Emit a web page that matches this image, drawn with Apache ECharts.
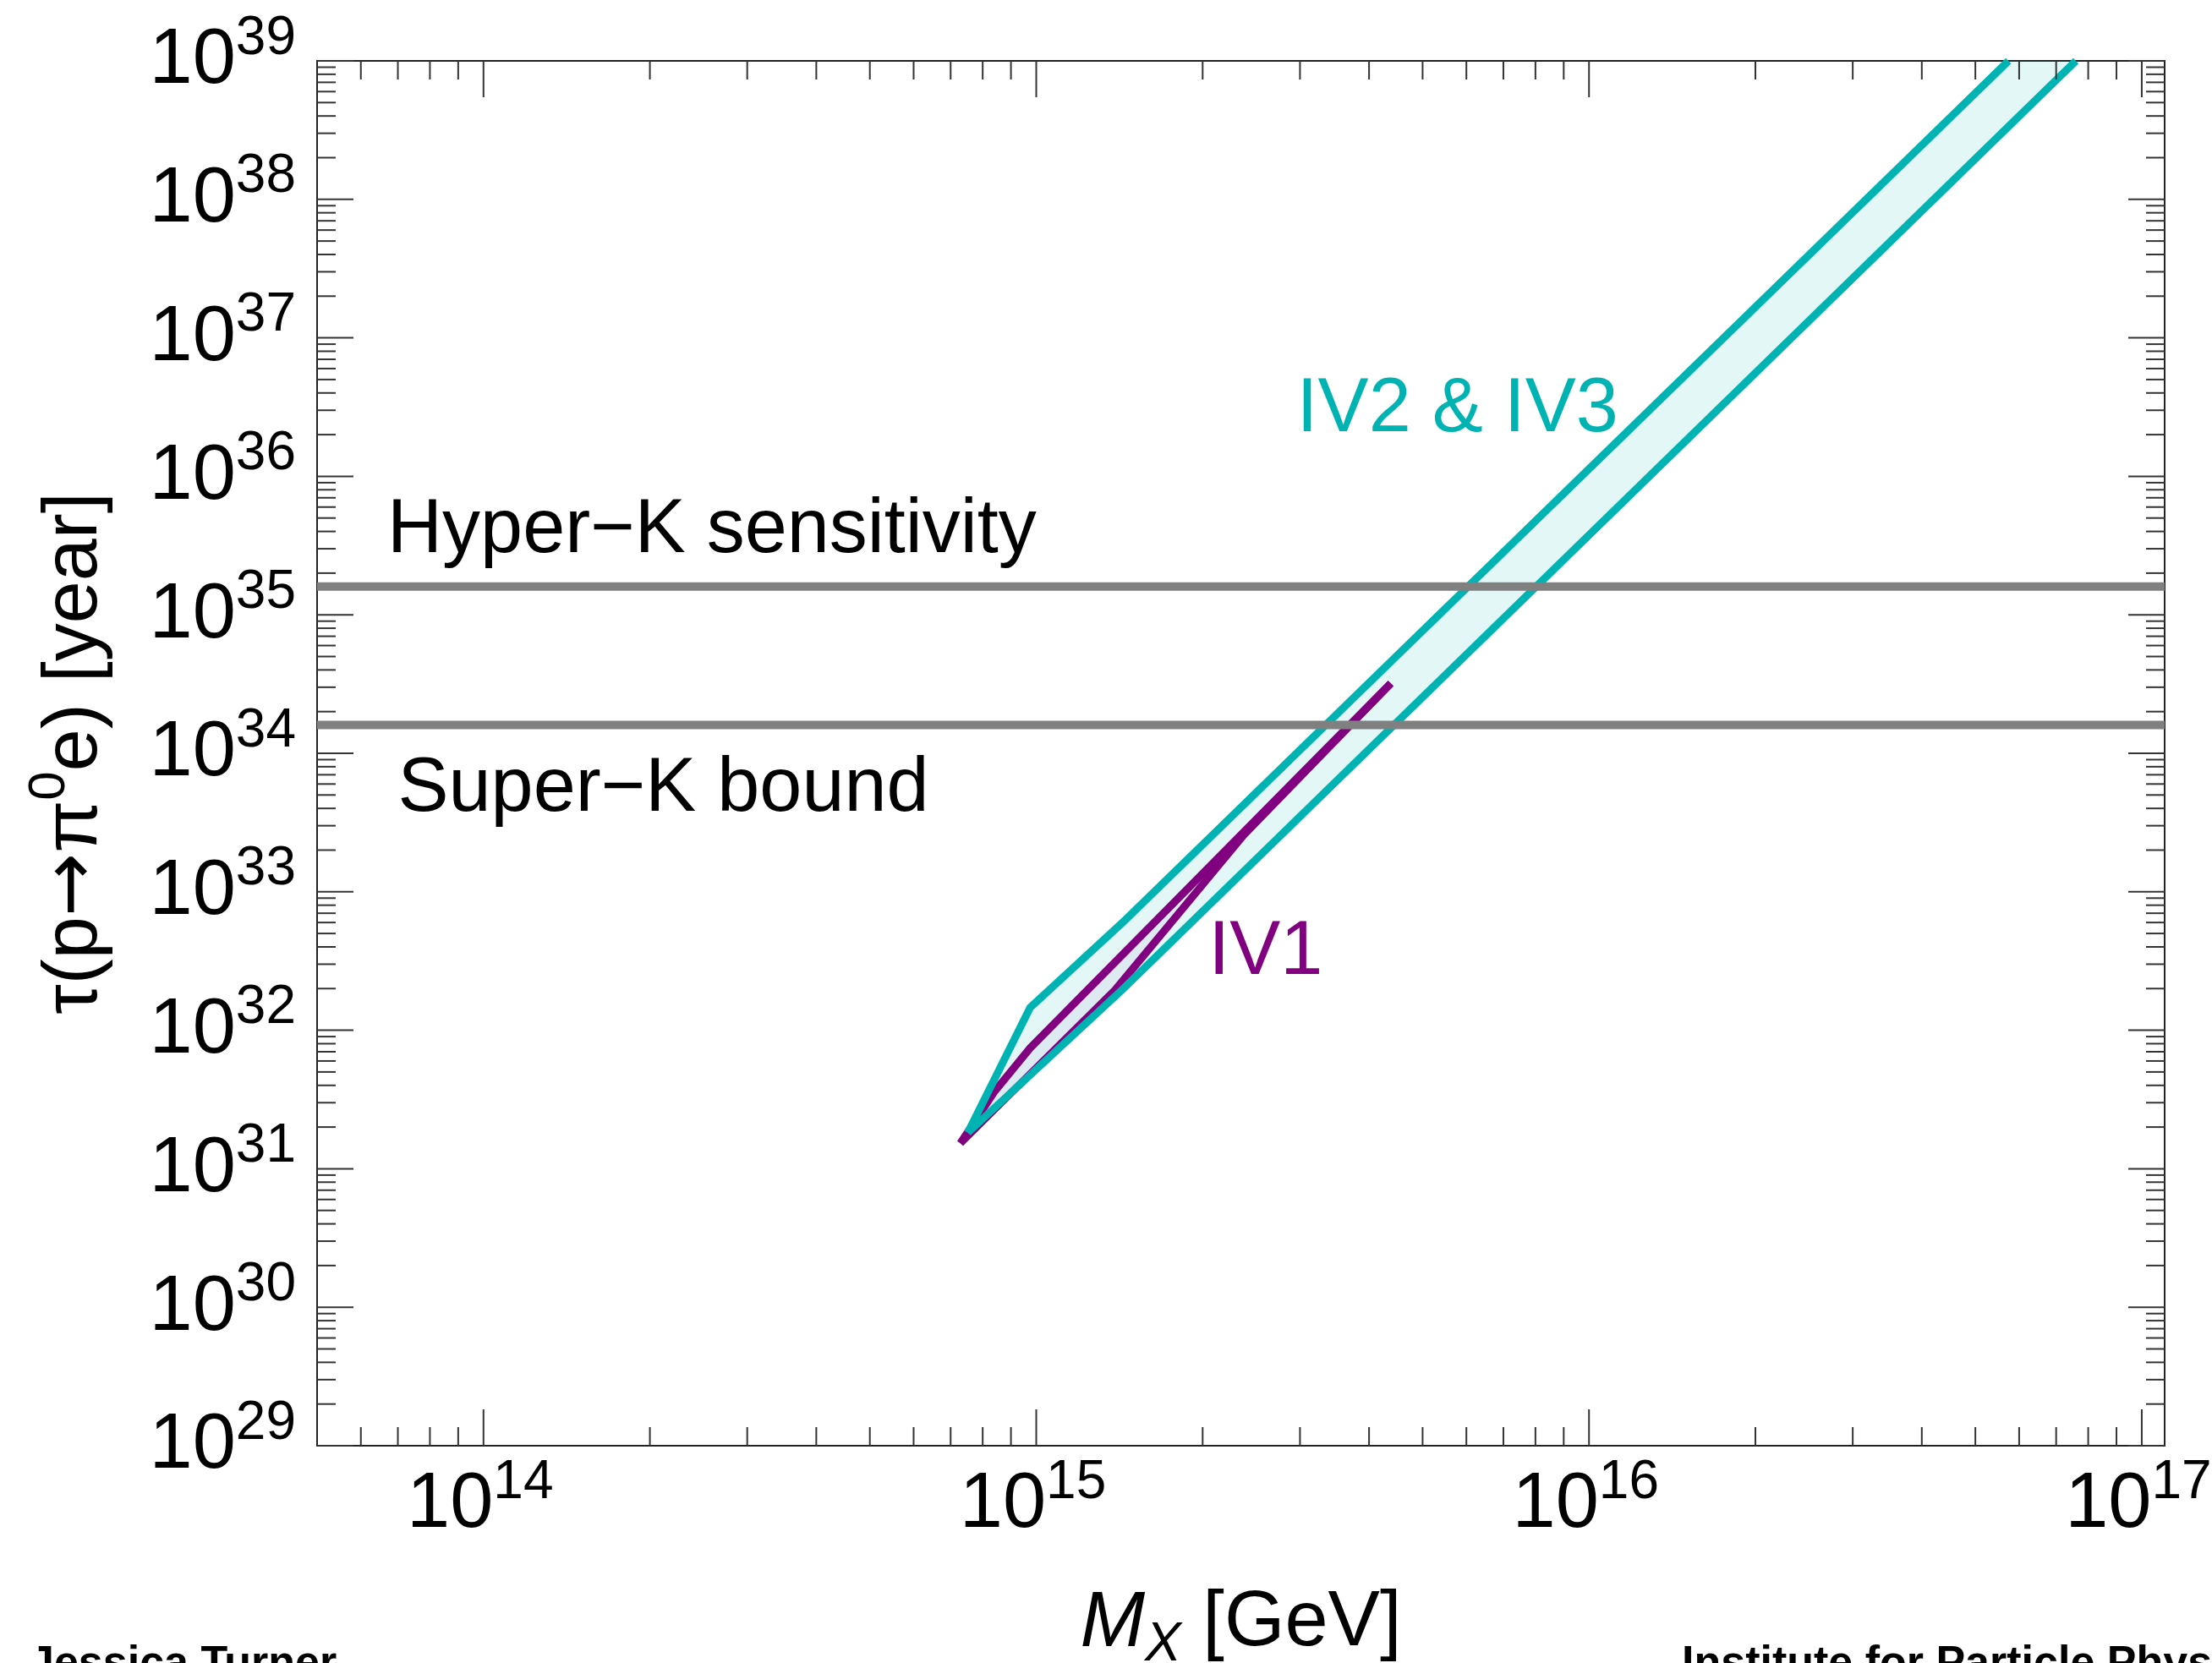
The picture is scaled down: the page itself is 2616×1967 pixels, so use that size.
<!DOCTYPE html>
<html>
<head>
<meta charset="utf-8">
<script src="https://cdn.jsdelivr.net/npm/echarts@6/dist/echarts.min.js"></script>
<style>
  html, body { margin: 0; padding: 0; background: #fff; }
  #chart { width: 2616px; height: 1967px; }
</style>
</head>
<body>
<div id="chart"></div>
<script>
const FONT = '"Liberation Sans", Arial, Helvetica, sans-serif'

// axis ranges
const X_MIN = 5e13
const X_MAX = 1.1e17
const Y_MIN = 1e29
const Y_MAX = 1e39

// decade ticks and the 2..9 minor steps in between
const xMajor = [1e13, 1e14, 1e15, 1e16, 1e17]
const yMajor = [1e29, 1e30, 1e31, 1e32, 1e33, 1e34, 1e35, 1e36, 1e37, 1e38, 1e39]
const minorSteps = [2, 3, 4, 5, 6, 7, 8, 9]

// IV2 & IV3 band, [M_X in GeV, lifetime in years]
const iv23Upper = [[7.52e14, 1.82e31], [9.75e14, 1.46e32], [1.43e15, 5.96e32], [5.74e16, 1e39]]
const iv23Lower = [[7.52e14, 1.82e31], [1.43e15, 1.96e32], [7.6e16, 1e39]]

// IV1 band
const iv1Upper = [[7.29e14, 1.53e31], [8.39e14, 3.58e31], [9.75e14, 7.45e31], [4.38e15, 3.2e34]]
const iv1Lower = [[7.29e14, 1.53e31], [1.39e15, 1.96e32], [2.37e15, 2.55e33], [4.38e15, 3.2e34]]

// experimental limits
const superK = 1.6e34
const hyperK = 1.6e35

// in-plot notes, anchored at the left end of the text baseline
const notes = ['Hyper\u2212K sensitivity', 'Super\u2212K bound', 'IV2 & IV3', 'IV1']
const noteAt = [[6.7e13, 2.6e35], [7.0e13, 3.5e33], [2.96e15, 1.95e36], [2.05e15, 2.34e32]]
const noteColor = ['#000000', '#000000', '#00b3b3', '#800080']

const CYAN = '#00b3b3'
const PURPLE = '#800080'

function isDecade (v) {
  const l = Math.log10(v)
  return Math.abs(l - Math.round(l)) < 1e-9
}

function tickValues (majors, lo, hi) {
  const out = []
  majors.forEach(m => {
    if (m >= lo && m <= hi) out.push(m)
    minorSteps.forEach(k => {
      const v = k * m
      if (v > lo && v < hi) out.push(v)
    })
  })
  return out
}

const xTicks = tickValues(xMajor, X_MIN, X_MAX)
const yTicks = tickValues(yMajor, Y_MIN, Y_MAX)

const tickStyle = { stroke: '#333', lineWidth: 2 }
const powRich = {
  b: { font: '92px ' + FONT, lineHeight: 118, fill: '#000' },
  s: { font: '64px ' + FONT, lineHeight: 64, verticalAlign: 'top', fill: '#000' }
}

function powLabel (v, x, y, align) {
  return {
    type: 'text',
    style: {
      text: '{b|10}{s|' + Math.round(Math.log10(v)) + '}',
      rich: powRich,
      x,
      y,
      align,
      verticalAlign: 'middle'
    }
  }
}

function renderXTick (params, api) {
  const v = api.value(0)
  const major = isDecade(v)
  const len = major ? 43 : 22
  const b = api.coord([v, Y_MIN])
  const t = api.coord([v, Y_MAX])
  const children = [
    { type: 'line', shape: { x1: b[0], y1: b[1], x2: b[0], y2: b[1] - len }, style: tickStyle },
    { type: 'line', shape: { x1: t[0], y1: t[1], x2: t[0], y2: t[1] + len }, style: tickStyle }
  ]
  if (major) children.push(powLabel(v, b[0] - 4, b[1] + 71, 'center'))
  return { type: 'group', children }
}

function renderYTick (params, api) {
  const v = api.value(1)
  const major = isDecade(v)
  const len = major ? 43 : 22
  const l = api.coord([X_MIN, v])
  const r = api.coord([X_MAX, v])
  const children = [
    { type: 'line', shape: { x1: l[0], y1: l[1], x2: l[0] + len, y2: l[1] }, style: tickStyle },
    { type: 'line', shape: { x1: r[0], y1: r[1], x2: r[0] - len, y2: r[1] }, style: tickStyle }
  ]
  if (major) children.push(powLabel(v, l[0] - 25, l[1] + 1, 'right'))
  return { type: 'group', children }
}

function bandRenderer (upper, lower, color) {
  return function (params, api) {
    if (params.dataIndex !== 0) return
    const pts = upper.concat(lower.slice().reverse()).map(p => api.coord(p))
    return { type: 'polygon', shape: { points: pts }, style: { fill: color } }
  }
}

function renderNote (params, api) {
  const i = params.dataIndex
  const p = api.coord([api.value(0), api.value(1)])
  const size = 90
  return {
    type: 'text',
    style: {
      text: notes[i],
      x: p[0],
      y: p[1] - 0.3465 * size,
      font: size + 'px ' + FONT,
      fill: noteColor[i],
      align: 'left',
      verticalAlign: 'middle'
    }
  }
}

function lineSeries (data, color, width, z) {
  return {
    type: 'line',
    data,
    symbol: 'none',
    silent: true,
    clip: false,
    z,
    lineStyle: { color, width, cap: 'butt', join: 'miter' }
  }
}

const chart = echarts.init(document.getElementById('chart'), null, { renderer: 'canvas' })

chart.setOption({
  animation: false,
  backgroundColor: '#fff',
  grid: {
    left: 375,
    right: 56,
    top: 72,
    bottom: 257,
    containLabel: false,
    outerBoundsMode: 'none',
    show: true,
    borderColor: '#222',
    borderWidth: 2,
    backgroundColor: 'transparent'
  },
  xAxis: {
    type: 'log',
    logBase: 10,
    min: X_MIN,
    max: X_MAX,
    axisLine: { show: false },
    axisTick: { show: false },
    axisLabel: { show: false },
    splitLine: { show: false },
    name: '{i|M}{sub|X}{n| [GeV]}',
    nameLocation: 'middle',
    nameGap: 154,
    nameMoveOverlap: false,
    nameTextStyle: {
      fontSize: 92,
      fontFamily: FONT,
      rich: {
        i: { fontSize: 92, fontFamily: FONT, fontStyle: 'italic', lineHeight: 114, color: '#000' },
        sub: { fontSize: 64, fontFamily: FONT, fontStyle: 'italic', lineHeight: 64, verticalAlign: 'bottom', color: '#000' },
        n: { fontSize: 92, fontFamily: FONT, lineHeight: 114, color: '#000' }
      }
    }
  },
  yAxis: {
    type: 'log',
    logBase: 10,
    min: Y_MIN,
    max: Y_MAX,
    axisLine: { show: false },
    axisTick: { show: false },
    axisLabel: { show: false },
    splitLine: { show: false },
    name: '{t|\u03c4(p}{a|\u2192}{t|\u03c0}{s|0}{t|e) [year]}',
    nameLocation: 'middle',
    nameRotate: 90,
    nameGap: 225,
    nameMoveOverlap: false,
    nameTextStyle: {
      fontSize: 90,
      fontFamily: FONT,
      rich: {
        t: { fontSize: 90, fontFamily: FONT, lineHeight: 122, color: '#000' },
        a: { fontSize: 90, fontFamily: '"DejaVu Sans", sans-serif', lineHeight: 122, color: '#000' },
        s: { fontSize: 62, fontFamily: FONT, lineHeight: 62, verticalAlign: 'top', color: '#000' }
      }
    }
  },
  graphic: [
    {
      type: 'text',
      left: 35,
      top: 1943,
      style: { text: 'Jessica Turner', font: 'bold 52px ' + FONT, fill: '#000' }
    },
    {
      type: 'text',
      left: 1989,
      top: 1943,
      style: { text: 'Institute for Particle Physics Phenomenology', font: 'bold 52px ' + FONT, fill: '#000' }
    }
  ],
  series: [
    {
      type: 'custom',
      name: 'IV2 & IV3 band',
      data: iv23Upper,
      renderItem: bandRenderer(iv23Upper, iv23Lower, 'rgba(0,179,179,0.11)'),
      silent: true,
      z: 1
    },
    {
      type: 'custom',
      name: 'IV1 band',
      data: iv1Upper,
      renderItem: bandRenderer(iv1Upper, iv1Lower, 'rgba(128,0,128,0.05)'),
      silent: true,
      z: 2
    },
    lineSeries(iv1Upper, PURPLE, 9, 3),
    lineSeries(iv1Lower, PURPLE, 9, 3),
    lineSeries(iv23Upper, CYAN, 9, 4),
    lineSeries(iv23Lower, CYAN, 9, 4),
    lineSeries([[X_MIN, superK], [X_MAX, superK]], '#808080', 10, 5),
    lineSeries([[X_MIN, hyperK], [X_MAX, hyperK]], '#808080', 10, 5),
    {
      type: 'custom',
      name: 'x ticks',
      data: xTicks.map(v => [v, Y_MIN]),
      renderItem: renderXTick,
      silent: true,
      z: 6
    },
    {
      type: 'custom',
      name: 'y ticks',
      data: yTicks.map(v => [X_MIN, v]),
      renderItem: renderYTick,
      silent: true,
      z: 6
    },
    {
      type: 'custom',
      name: 'notes',
      data: noteAt,
      renderItem: renderNote,
      silent: true,
      z: 7
    }
  ]
})

window.addEventListener('resize', () => chart.resize())
</script>
</body>
</html>
